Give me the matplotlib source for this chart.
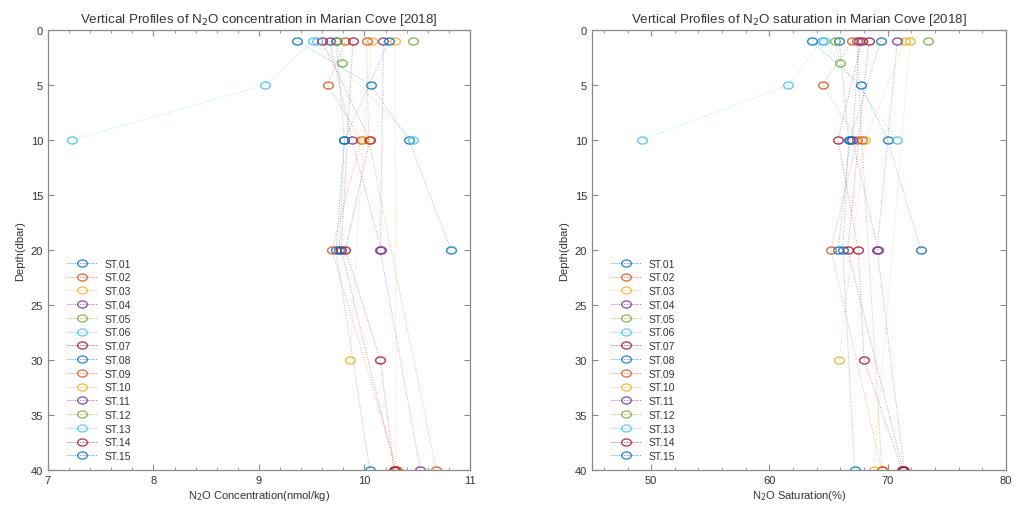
"""
N2O vertical profiles in Marian Cove (2018): concentration and saturation
versus depth for each sampling station, drawn in a MATLAB-like style.
"""
import numpy as np
import matplotlib.pyplot as plt
from matplotlib.path import Path
from matplotlib.ticker import MultipleLocator

plt.rcParams["font.family"] = ["Liberation Sans", "DejaVu Sans"]

# ----------------- data ------------------------------------------------------
stations = ["ST.01", "ST.02", "ST.03", "ST.04", "ST.05", "ST.06", "ST.07",
            "ST.08", "ST.09", "ST.10", "ST.11", "ST.12", "ST.13", "ST.14",
            "ST.15"]

# sampling depths (dbar) per station
st_depth = [
    [1, 10, 20, 40],
    [1, 5, 10, 20, 40],
    [1, 10, 30],
    [1, 20, 40],
    [1, 3],
    [1, 5, 10],
    [1, 10, 20, 30, 40],
    [1, 5, 10, 20],
    [1, 10, 40],
    [1, 40],
    [1, 10, 20],
    [1],
    [1, 10],
    [1, 20, 40],
    [1, 10, 20],
]

# N2O concentration (nmol/kg)
st_conc = [
    [9.73, 9.81, 9.73, 10.05],
    [9.82, 9.65, 9.97, 9.69, 10.31],
    [10.07, 9.99, 9.86],
    [10.18, 10.15, 10.53],
    [9.74, 9.79],
    [9.51, 9.06, 7.23],
    [9.60, 10.05, 9.82, 10.15, 10.28],
    [9.36, 10.06, 10.42, 10.82],
    [10.02, 10.04, 10.68],
    [10.29, 10.30],
    [9.67, 9.88, 10.16],
    [10.46],
    [9.55, 10.46],
    [9.89, 9.78, 10.29],
    [10.23, 9.81, 9.76],
]

# N2O saturation (%)
st_sat = [
    [65.9, 66.7, 66.2, 67.2],
    [67.0, 64.5, 67.4, 65.2, 69.5],
    [71.5, 68.1, 65.9],
    [70.8, 69.1, 71.4],
    [65.5, 66.0],
    [64.4, 61.6, 49.2],
    [67.8, 65.8, 67.5, 68.0, 71.2],
    [63.6, 67.7, 70.0, 72.8],
    [67.4, 67.8, 69.5],
    [71.9, 68.8],
    [67.6, 67.0, 69.2],
    [73.4],
    [64.6, 70.8],
    [68.4, 66.6, 71.3],
    [69.4, 66.8, 65.8],
]

# MATLAB default colour order
COLORS = ["#0072BD", "#D95319", "#EDB120", "#7E2F8E", "#77AC30",
          "#4DBEEE", "#A2142F"]

# slightly flattened open circle
_t = np.linspace(0, 2 * np.pi, 41)
ELLIPSE = Path(np.column_stack([np.cos(_t), 0.72 * np.sin(_t)]), closed=True)

AX_COLOR = "#8a8a8a"
TXT_COLOR = "#333333"


def style_axes(ax, xlim, xmajor, xminor):
    ax.set_xlim(*xlim)
    ax.set_ylim(40, 0)
    ax.xaxis.set_major_locator(MultipleLocator(xmajor))
    ax.xaxis.set_minor_locator(MultipleLocator(xminor))
    ax.yaxis.set_major_locator(MultipleLocator(5))
    ax.tick_params(which="both", direction="in", top=True, right=True,
                   color=AX_COLOR, labelcolor=TXT_COLOR, labelsize=8)
    ax.tick_params(which="major", length=4, width=0.8)
    ax.tick_params(which="minor", length=2, width=0.6)
    for sp in ax.spines.values():
        sp.set_color(AX_COLOR)
        sp.set_linewidth(0.9)
    ax.set_ylabel("Depth(dbar)", fontsize=8, color=TXT_COLOR, labelpad=4)


def draw_profiles(ax, values):
    for i, name in enumerate(stations):
        c = COLORS[i % len(COLORS)]
        # faint dotted profile line, then the sample markers on top
        ax.plot(values[i], st_depth[i], linestyle=":", linewidth=0.7,
                color=c, alpha=0.45)
        ax.plot(values[i], st_depth[i], linestyle="none", marker=ELLIPSE,
                markersize=7, markerfacecolor="none", markeredgewidth=1.0,
                color=c, alpha=0.85)
        # combined handle for the legend
        ax.plot([], [], linestyle=":", linewidth=0.7, marker=ELLIPSE,
                markersize=7, markerfacecolor="none", markeredgewidth=1.0,
                color=c, alpha=0.8, label=name)


def add_legend(ax):
    ax.legend(loc="upper left", bbox_to_anchor=(0.035, 0.49), frameon=False,
              fontsize=7.5, labelspacing=0.36, handlelength=2.9,
              handletextpad=0.7, borderaxespad=0, labelcolor=TXT_COLOR)


fig = plt.figure(figsize=(10.16, 5.06), dpi=100)
ax1 = fig.add_axes([0.0472, 0.0692, 0.4154, 0.8696])
ax2 = fig.add_axes([0.5827, 0.0692, 0.4075, 0.8696])

draw_profiles(ax1, st_conc)
style_axes(ax1, (7, 11), 1, 0.2)
ax1.set_xlabel("N$_2$O Concentration(nmol/kg)", fontsize=8, color=TXT_COLOR,
               labelpad=2)
ax1.set_title("Vertical Profiles of N$_2$O concentration in Marian Cove [2018]",
              fontsize=9.6, color=TXT_COLOR, pad=6)
add_legend(ax1)

draw_profiles(ax2, st_sat)
style_axes(ax2, (45, 80), 10, 2)
ax2.set_xlabel("N$_2$O Saturation(%)", fontsize=8, color=TXT_COLOR,
               labelpad=2)
ax2.set_title("Vertical Profiles of N$_2$O saturation in Marian Cove [2018]",
              fontsize=9.6, color=TXT_COLOR, pad=6)
add_legend(ax2)

fig.savefig("out.png", dpi=100)
